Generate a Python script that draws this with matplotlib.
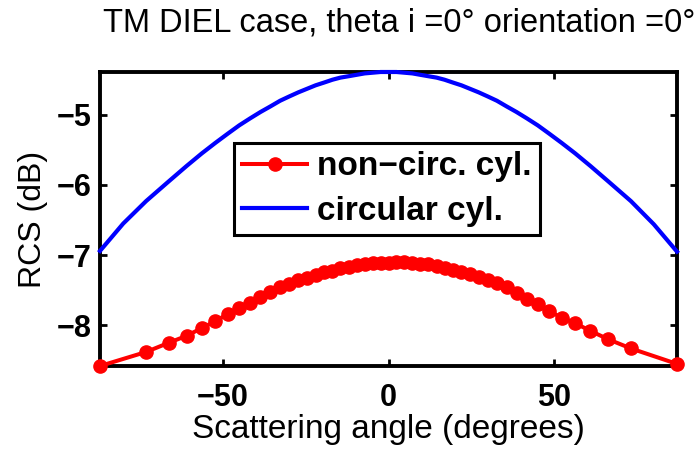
import matplotlib
matplotlib.use("Agg")
import matplotlib.pyplot as plt

# scattering angles (degrees) and RCS values (dB)
angles = [-87.0, -73.1, -66.3, -60.9, -56.3, -52.2, -48.5, -45.0, -41.7, -38.6,
          -35.6, -32.7, -30.0, -27.2, -24.6, -22.0, -19.4, -16.9, -14.5, -12.0,
          -9.6, -7.2, -4.8, -2.4, 0.0, 2.4, 4.8, 7.2, 9.6, 12.0, 14.5, 16.9,
          19.4, 22.0, 24.6, 27.2, 30.0, 32.7, 35.6, 38.6, 41.7, 45.0, 48.5,
          52.2, 56.3, 60.9, 66.3, 73.1, 87.0]

rcs_noncirc = [-8.58, -8.38, -8.25, -8.15, -8.04, -7.94, -7.84, -7.76, -7.68, -7.60,
               -7.52, -7.46, -7.41, -7.36, -7.32, -7.28, -7.24, -7.22, -7.19, -7.17,
               -7.14, -7.12, -7.11, -7.11, -7.11, -7.10, -7.10, -7.11, -7.12, -7.13,
               -7.15, -7.18, -7.21, -7.24, -7.27, -7.31, -7.36, -7.40, -7.46, -7.54,
               -7.62, -7.70, -7.80, -7.89, -7.97, -8.08, -8.20, -8.33, -8.55]

# the circular cylinder curve is drawn as a plain line, a bit denser at the ends
angles_circ = [-87.0, -80.0, -73.1, -66.3, -60.9, -56.3, -52.2, -48.5, -45.0,
               -41.7, -38.6, -35.6, -32.7, -30.0, -27.2, -24.6, -22.0, -19.4,
               -16.9, -14.5, -12.0, -9.6, -7.2, -4.8, -2.4, 0.0, 2.4, 4.8, 7.2,
               9.6, 12.0, 14.5, 16.9, 19.4, 22.0, 24.6, 27.2, 30.0, 32.7, 35.6,
               38.6, 41.7, 45.0, 48.5, 52.2, 56.3, 60.9, 66.3, 73.1, 80.0, 87.0]

rcs_circ = [-6.94, -6.55, -6.23, -5.95, -5.73, -5.55, -5.40, -5.27, -5.15,
            -5.05, -4.96, -4.88, -4.80, -4.74, -4.68, -4.63, -4.58, -4.54,
            -4.50, -4.47, -4.45, -4.43, -4.41, -4.40, -4.39, -4.39, -4.39, -4.40,
            -4.41, -4.43, -4.45, -4.47, -4.50, -4.54, -4.58, -4.63, -4.68, -4.74,
            -4.80, -4.88, -4.96, -5.05, -5.15, -5.27, -5.40, -5.55, -5.73, -5.95,
            -6.23, -6.56, -6.95]

labels = ["non\u2212circ. cyl.", "circular cyl."]
xticks = [-50, 0, 50]
yticks = [-8, -7, -6, -5]

plt.rcParams['font.family'] = ['Liberation Sans', 'DejaVu Sans']

fig = plt.figure(figsize=(6.97, 4.53), dpi=100)
ax = fig.add_axes([100/697, 1-366/453, 577/697, 294/453])

ax.plot(angles, rcs_noncirc, color='#ff0000', lw=2.9, marker='o', ms=9.5,
        label=labels[0], clip_on=False, zorder=3)
ax.plot(angles_circ, rcs_circ, color='#0000ff', lw=3.0, label=labels[1],
        clip_on=False, zorder=3)

ax.set_xlim(min(angles), max(angles))
ax.set_ylim(min(rcs_noncirc), max(rcs_circ))
ax.set_xticks(xticks)
ax.set_yticks(yticks)
ax.set_yticklabels([str(t).replace('-', '\u2212') for t in yticks])
ax.set_xticklabels([str(t).replace('-', '\u2212') for t in xticks])

for s in ax.spines.values():
    s.set_linewidth(2.8)
ax.tick_params(direction='in', length=5, width=2, top=True, right=True,
               labelsize=22)
ax.tick_params(axis='x', pad=12)
ax.tick_params(axis='y', pad=6)
for t in ax.get_xticklabels() + ax.get_yticklabels():
    t.set_fontweight('bold')

ax.set_xlabel("Scattering angle (degrees)", fontsize=24, labelpad=1)
ax.set_ylabel("RCS (dB)", fontsize=23, labelpad=6)
fig.text(399/697, 1-23/453, "TM DIEL case, theta i =0\u00b0 orientation =0\u00b0",
         ha='center', va='center', fontsize=23.5)

leg = ax.legend(loc='center', bbox_to_anchor=(0.497, 0.602), fancybox=False,
                edgecolor='black', framealpha=1, handlelength=1.95,
                handletextpad=0.3, labelspacing=0.4, borderpad=0.25,
                prop={'size': 24, 'weight': 'bold'})
leg.get_frame().set_linewidth(2.2)
leg.set_zorder(5)

fig.savefig("out.png", dpi=100)
